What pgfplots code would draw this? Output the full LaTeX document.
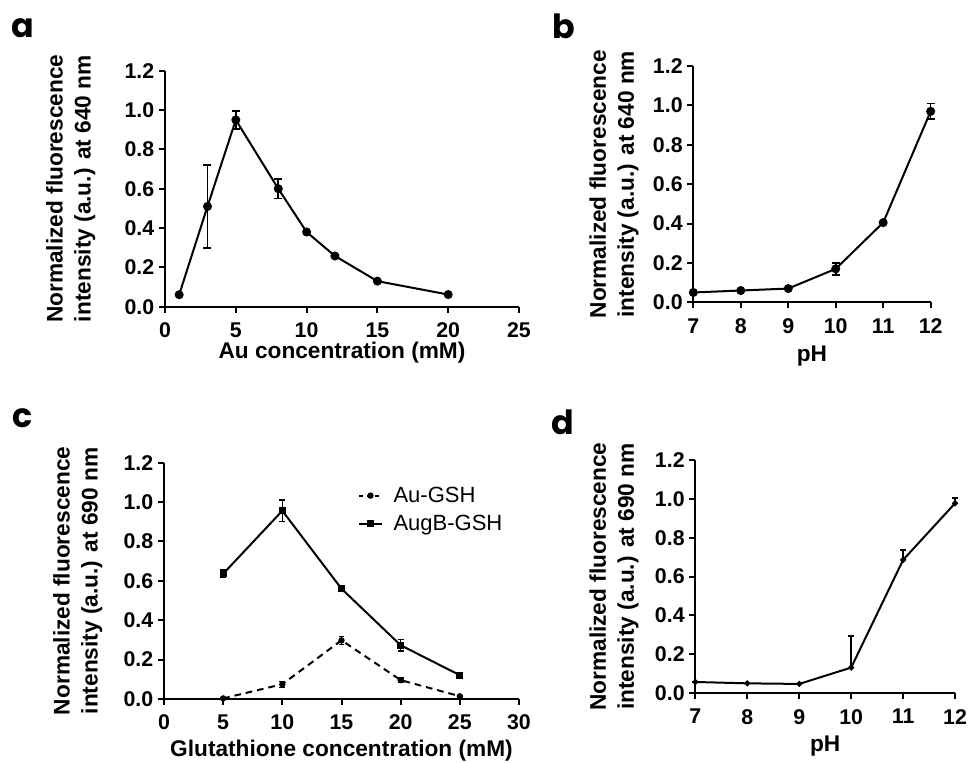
\documentclass[border=0pt]{standalone}
\usepackage{fontspec}
\setmainfont{Liberation Sans}
\newfontfamily\panelfont{Poppins}
\usepackage{pgfplots}
\pgfplotsset{compat=1.18}

% 1 px of the reference = 0.75pt
\pgfplotsset{
  panel/.style={
    scale only axis, anchor=south west,
    axis x line=bottom, axis y line=left,
    axis line style={-, line width=1.5pt},
    every tick/.style={line width=1.5pt, black},
    tick align=outside, major tick length=4.5pt,
    ymin=0, ymax=1.2, ytick={0,0.2,0.4,0.6,0.8,1.0,1.2},
    yticklabel style={/pgf/number format/.cd, fixed, fixed zerofill, precision=1},
    xticklabel style={yshift=-4pt},
    /pgf/number format/assume math mode=true,
    tick label style={font=\fontsize{16}{18}\selectfont\bfseries},
    label style={font=\fontsize{17}{21}\selectfont\bfseries},
    ylabel style={align=center, anchor=center, rotate=0},
    xlabel style={anchor=center},
    clip=false,
  },
  dat/.style={black, line width=1.5pt, mark=*, mark size=2.6pt,
    error bars/y dir=both, error bars/y explicit,
    error bars/error bar style={line width=1.2pt, solid},
    error bars/error mark options={rotate=90, mark size=3pt, line width=1.2pt, solid}},
}

\begin{document}
\begin{tikzpicture}
\path[use as bounding box] (0,0) rectangle (726pt,572.25pt);

% panel a
\begin{axis}[panel, at={(123.75pt,342.2pt)}, width=265.5pt, height=177pt,
  xmin=0, xmax=25, xtick={0,5,10,15,20,25},
  xlabel={Au concentration (mM)},
  ylabel={Normalized fluorescence\\intensity (a.u.) at 640 nm},
  xlabel style={at={(axis description cs:0.5,-0.196)}},
  ylabel style={at={(axis description cs:-0.266,0.5)}}]
\addplot[dat] coordinates {
  (1,0.061) +- (0,0)
  (3,0.51) +- (0,0.21)
  (5,0.95) +- (0,0.045)
  (8,0.60) +- (0,0.05)
  (10,0.38) +- (0,0)
  (12,0.258) +- (0,0)
  (15,0.13) +- (0,0)
  (20,0.062) +- (0,0)};
\end{axis}

% panel b
\begin{axis}[panel, at={(520pt,345.5pt)}, width=178pt, height=177.2pt,
  xmin=7, xmax=12, xtick={7,8,9,10,11,12},
  xlabel={pH},
  ylabel={Normalized fluorescence\\intensity (a.u.) at 640 nm},
  xlabel style={at={(axis description cs:0.5,-0.227)}},
  ylabel style={at={(axis description cs:-0.334,0.5)}}]
\addplot[dat] coordinates {
  (7,0.05) +- (0,0)
  (8,0.06) +- (0,0)
  (9,0.07) +- (0,0)
  (10,0.17) +- (0,0.03)
  (11,0.405) +- (0,0.005)
  (12,0.97) +- (0,0.04)};
\end{axis}

% panel c
\begin{axis}[panel, at={(123pt,48pt)}, width=266.25pt, height=177.2pt,
  xmin=0, xmax=30, xtick={0,5,10,15,20,25,30},
  xlabel={Glutathione concentration (mM)},
  ylabel={Normalized fluorescence\\intensity (a.u.) at 690 nm},
  xlabel style={at={(axis description cs:0.5,-0.219)}},
  ylabel style={at={(axis description cs:-0.243,0.5)}},
  legend style={draw=none, fill=none, at={(axis description cs:0.546,0.91)}, anchor=north west,
    font=\fontsize{16.5}{19}\selectfont, row sep=4pt, column sep=6pt, inner sep=0pt},
  legend cell align=left]
\addplot[dat, dash pattern=on 5pt off 3.7pt, mark size=1.6pt, mark options={solid},
  error bars/error mark options={rotate=90, mark size=2.2pt, line width=1pt, solid},
  error bars/error bar style={line width=1pt, solid},
  legend image post style={dash pattern=on 3pt off 3pt}] coordinates {
  (5,0.003) +- (0,0.004)
  (10,0.075) +- (0,0.015)
  (15,0.298) +- (0,0.02)
  (20,0.096) +- (0,0.01)
  (25,0.014) +- (0,0.004)};
\addlegendentry{Au-GSH}
\addplot[dat, mark=square*, mark size=1.8pt,
  error bars/error mark options={rotate=90, mark size=2.2pt, line width=1pt, solid},
  error bars/error bar style={line width=1pt, solid}] coordinates {
  (5,0.636) +- (0,0.02)
  (10,0.956) +- (0,0.055)
  (15,0.56) +- (0,0.015)
  (20,0.273) +- (0,0.03)
  (25,0.121) +- (0,0.01)};
\addlegendentry{AugB-GSH}
\end{axis}

% panel d
\begin{axis}[panel, at={(521.5pt,52.3pt)}, width=194.8pt, height=175pt,
  xmin=7, xmax=12, xtick={7,8,9,10,11,12},
  xlabel={pH},
  ylabel={Normalized fluorescence\\intensity (a.u.) at 690 nm},
  xlabel style={at={(axis description cs:0.5,-0.226)}},
  ylabel style={at={(axis description cs:-0.313,0.5)}}]
\addplot[dat, mark size=1.4pt, error bars/y dir=plus,
  error bars/error mark options={rotate=90, mark size=2.2pt, line width=1.2pt}] coordinates {
  (7,0.058) +- (0,0)
  (8,0.051) +- (0,0)
  (9,0.048) +- (0,0)
  (10,0.132) +- (0,0.163)
  (11,0.686) +- (0,0.05)
  (12,0.977) +- (0,0.026)};
\end{axis}

% panel letters
\node[anchor=base west, inner sep=0pt, font=\panelfont\fontsize{25}{27}\selectfont\bfseries] at (8.5pt,543.75pt) {a};
\node[anchor=base west, inner sep=0pt, font=\panelfont\fontsize{25}{27}\selectfont\bfseries] at (414pt,543pt) {b};
\node[anchor=base west, inner sep=0pt, font=\panelfont\fontsize{25}{27}\selectfont\bfseries] at (9pt,251.25pt) {c};
\node[anchor=base west, inner sep=0pt, font=\panelfont\fontsize{25}{27}\selectfont\bfseries] at (413.5pt,246pt) {d};
\end{tikzpicture}
\end{document}
